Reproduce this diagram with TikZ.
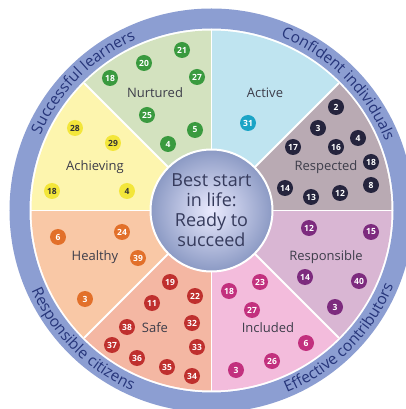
\documentclass[tikz,border=0pt]{standalone}
\usepackage{fontspec}
\setmainfont{Open Sans}
\usetikzlibrary{decorations.text}
\definecolor{ringcol}{HTML}{8C9ED2}
\definecolor{ringtext}{HTML}{26357A}
\definecolor{resp}{HTML}{B9AAB3}
\definecolor{act}{HTML}{BFE4F0}
\definecolor{nur}{HTML}{D3E2BF}
\definecolor{ach}{HTML}{FDF5AE}
\definecolor{hea}{HTML}{F9C8A6}
\definecolor{saf}{HTML}{F4B7A3}
\definecolor{inc}{HTML}{F3BCDC}
\definecolor{rsb}{HTML}{D9B6D3}
\definecolor{nurD}{HTML}{3A9A3F}
\definecolor{achD}{HTML}{F3E63A}
\definecolor{actD}{HTML}{1BA4C6}
\definecolor{respD}{HTML}{25243D}
\definecolor{rsbD}{HTML}{7D2B7E}
\definecolor{incD}{HTML}{C2307E}
\definecolor{safD}{HTML}{BF302E}
\definecolor{heaD}{HTML}{E2702A}
\definecolor{lbltext}{HTML}{3D3D4A}
\definecolor{hubtext}{HTML}{363B5C}
\newcommand\ringfnt{\fontsize{15.5}{18}\selectfont}
\newcommand\bdg[4]{\node[badge,#2] (#1) at (#3) {#4};}
\begin{document}
\begin{tikzpicture}[x=1pt,y=1pt,
  badge/.style={circle,minimum size=16pt,inner sep=0pt,text=white,font=\fontsize{8.5}{9}\selectfont\bfseries},
  bnur/.style={fill=nurD}, bach/.style={fill=achD,text=black!80},
  bact/.style={fill=actD}, bresp/.style={fill=respD},
  brsb/.style={fill=rsbD}, binc/.style={fill=incD},
  bsaf/.style={fill=safD}, bhea/.style={fill=heaD},
  lbl/.style={text=lbltext,font=\fontsize{13}{15}\selectfont,inner sep=0pt},
  ringtxt/.style={decorate,decoration={text along path,text align=center,text color=ringtext,text={|\ringfnt|#1}}}
]
\useasboundingbox (-211.5,-198.5) rectangle (194.5,210.5);
% outer ring
\fill[ringcol,even odd rule] (0,0) circle[radius=202pt] (0,0) circle[radius=182pt];
% sectors
\foreach \a/\c in {0/resp,45/act,90/nur,135/ach,180/hea,225/saf,270/inc,315/rsb}
  \fill[fill=\c] (0,0) -- (\a:180pt) arc[start angle=\a,end angle=\a+45,radius=180pt] -- cycle;
\foreach \a in {0,45,...,315}
  \draw[white,line width=1.8pt] (0,0) -- (\a:180pt);
% ring texts
\path[ringtxt={Successful learners}] (180:187pt) arc[start angle=180,end angle=90,radius=187pt];
\path[ringtxt={Confident individuals}] (90:187pt) arc[start angle=90,end angle=0,radius=187pt];
\path[ringtxt={Responsible citizens}] (180:197pt) arc[start angle=180,end angle=270,radius=197pt];
\path[ringtxt={Effective contributors}] (270:197pt) arc[start angle=270,end angle=360,radius=197pt];
% hub
\node[circle,minimum size=122pt,inner sep=0pt,draw=white,line width=2pt,
  inner color=black!2!blue!8!white,outer color=ringcol!90!black!90!white,
  align=center,text=hubtext,font=\fontsize{18}{20}\selectfont] (hub) at (0,0)
  {Best start\\in life:\\Ready to\\succeed};
% labels
\node[lbl] (lnur) at (-56.5,117.5) {Nurtured};
\node[lbl] (lact) at (53.5,117.5) {Active};
\node[lbl] (lach) at (-116.5,43.5) {Achieving};
\node[lbl] (lresp) at (114.5,43.5) {Respected};
\node[lbl] (lhea) at (-116.5,-46.5) {Healthy};
\node[lbl] (lrsb) at (114.5,-46.5) {Responsible};
\node[lbl] (lsaf) at (-56.5,-117.5) {Safe};
\node[lbl] (linc) at (56.5,-117.5) {Included};
% Nurtured
\bdg{n18}{bnur}{-101.5,132.5}{18}
\bdg{n20}{bnur}{-67.5,147.5}{20}
\bdg{n21}{bnur}{-29.5,160.5}{21}
\bdg{n27}{bnur}{-14.5,133.5}{27}
\bdg{n25}{bnur}{-64.5,95.5}{25}
\bdg{n5}{bnur}{-16.5,80.5}{5}
\bdg{n4}{bnur}{-43.5,66.5}{4}
% Achieving
\bdg{a28}{bach}{-136.5,82.5}{28}
\bdg{a29}{bach}{-98.5,67.5}{29}
\bdg{a18}{bach}{-159.5,19.5}{18}
\bdg{a4}{bach}{-84.5,19.5}{4}
% Active
\bdg{c31}{bact}{36.5,87.5}{31}
% Respected
\bdg{r2}{bresp}{124.5,103.5}{2}
\bdg{r3}{bresp}{106.5,82.5}{3}
\bdg{r4}{bresp}{146.5,72.5}{4}
\bdg{r16}{bresp}{124.5,63.5}{16}
\bdg{r17}{bresp}{81.5,63.5}{17}
\bdg{r18}{bresp}{159.5,48.5}{18}
\bdg{r8}{bresp}{159.5,25.5}{8}
\bdg{r14}{bresp}{73.5,22.5}{14}
\bdg{r13}{bresp}{99.5,13.5}{13}
\bdg{r12}{bresp}{128.5,17.5}{12}
% Responsible
\bdg{s12}{brsb}{97.5,-17.5}{12}
\bdg{s15}{brsb}{159.5,-21.5}{15}
\bdg{s14}{brsb}{93.5,-66.5}{14}
\bdg{s40}{brsb}{147.5,-70.5}{40}
\bdg{s3}{brsb}{123.5,-96.5}{3}
% Included
\bdg{i18}{binc}{17.5,-80.5}{18}
\bdg{i23}{binc}{48.5,-71.5}{23}
\bdg{i27}{binc}{40.5,-99.5}{27}
\bdg{i6}{binc}{94.5,-132.5}{6}
\bdg{i26}{binc}{60.5,-150.5}{26}
\bdg{i3}{binc}{24.5,-159.5}{3}
% Safe
\bdg{f19}{bsaf}{-41.5,-71.5}{19}
\bdg{f22}{bsaf}{-16.5,-85.5}{22}
\bdg{f11}{bsaf}{-59.5,-92.5}{11}
\bdg{f32}{bsaf}{-19.5,-112.5}{32}
\bdg{f38}{bsaf}{-84.5,-116.5}{38}
\bdg{f37}{bsaf}{-99.5,-134.5}{37}
\bdg{f33}{bsaf}{-14.5,-136.5}{33}
\bdg{f36}{bsaf}{-74.5,-147.5}{36}
\bdg{f35}{bsaf}{-44.5,-156.5}{35}
\bdg{f34}{bsaf}{-19.5,-165.5}{34}
% Healthy
\bdg{h6}{bhea}{-153.5,-26.5}{6}
\bdg{h24}{bhea}{-89.5,-21.5}{24}
\bdg{h39}{bhea}{-73.5,-47.5}{39}
\bdg{h3}{bhea}{-126.5,-88.5}{3}
\end{tikzpicture}
\end{document}
